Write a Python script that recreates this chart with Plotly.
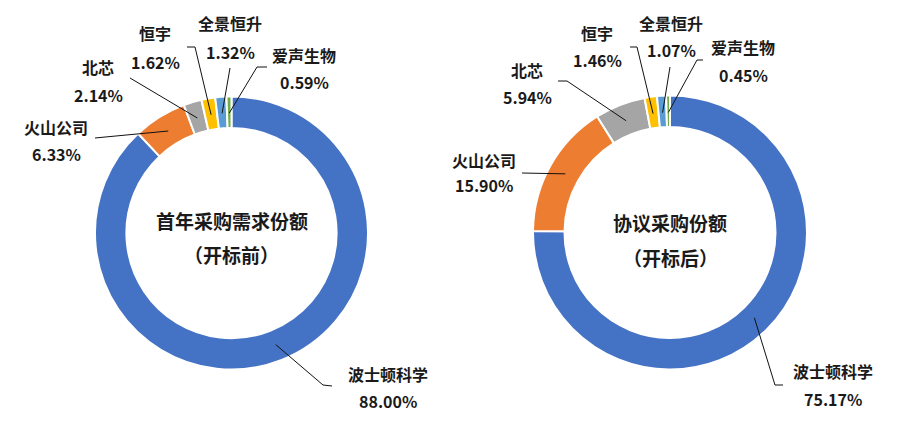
import math
import plotly.graph_objects as go

# ---------------- data ----------------
companies = ["波士顿科学", "火山公司", "北芯", "恒宇", "全景恒升", "爱声生物"]
share_before = [88.00, 6.33, 2.14, 1.62, 1.32, 0.59]
share_after = [75.17, 15.90, 5.94, 1.46, 1.07, 0.45]
titles_before = ["首年采购需求份额", "（开标前）"]
titles_after = ["协议采购份额", "（开标后）"]

colors = ["#4472C4", "#ED7D31", "#A5A5A5", "#FFC000", "#5B9BD5", "#70AD47"]

W, H = 903, 424
FONT = "Noto Sans CJK SC, Noto Sans, sans-serif"
TXT = "#1a1a1a"


def px(x):
    return x / W


def py(y):
    return 1 - y / H


# layout (pixel) settings for each donut
charts = [
    dict(values=share_before, cx=231.5, cy=233, r=136.5, titles=titles_before,
         title_y=[220, 255],
         # label centres (name line, percent line)
         labels=[(388, 374, 401), (56, 127, 154), (98, 67, 95), (155, 33, 62),
                 (230, 23, 52), (304, 55, 82)],
         # leader line points on the label side
         leaders=[[(332, 386), (323, 385)], [(95, 138)], [(130, 78)],
                  [(187, 47), (195, 47)], [(230, 68)], [(267, 67), (257, 67)]]),
    dict(values=share_after, cx=670, cy=232.5, r=137, titles=titles_after,
         title_y=[222, 257],
         labels=[(833, 371, 399), (484, 160, 185), (527, 70, 97), (597, 33, 60),
                 (671, 23, 50), (743, 47, 75)],
         leaders=[[(783, 385), (775, 385)], [(522, 173)], [(558, 81), (567, 81)],
                  [(630, 47), (637, 47)], [(670, 67)], [(703, 60), (697, 60)]]),
]

fig = go.Figure()
annotations = []
shapes = []


def text_ann(x, y, text, size):
    return dict(x=px(x), y=py(y), xref="paper", yref="paper",
                xanchor="center", yanchor="middle",
                text=f"<b>{text}</b>", showarrow=False,
                font=dict(family=FONT, size=size, color=TXT))


for ch in charts:
    cx, cy, r = ch["cx"], ch["cy"], ch["r"]
    fig.add_trace(go.Pie(
        labels=companies, values=ch["values"], hole=0.77, sort=False,
        direction="clockwise", rotation=0, textinfo="none",
        marker=dict(colors=colors, line=dict(color="white", width=2)),
        domain=dict(x=[px(cx - r), px(cx + r)], y=[py(cy + r), py(cy - r)]),
        showlegend=False, hoverinfo="label+percent",
    ))
    # center titles
    for t, ty in zip(ch["titles"], ch["title_y"]):
        annotations.append(text_ann(cx, ty, t, 19))
    # labels and leader lines
    total = sum(ch["values"])
    cum = 0.0
    for i, (name, v) in enumerate(zip(companies, ch["values"])):
        mid = (cum + v / 2) / total * 2 * math.pi
        cum += v
        ax = cx + 120 * math.sin(mid)
        ay = cy - 120 * math.cos(mid)
        lx, ny, vy = ch["labels"][i]
        annotations.append(text_ann(lx, ny, name, 16))
        annotations.append(text_ann(lx, vy, f"{v:.2f}%", 16))
        pts = ch["leaders"][i] + [(ax, ay)]
        path = "M " + " L ".join(f"{px(x):.5f},{py(y):.5f}" for x, y in pts)
        shapes.append(dict(type="path", path=path, xref="paper", yref="paper",
                           line=dict(color="#111111", width=1)))

fig.update_layout(
    width=W, height=H, margin=dict(l=0, r=0, t=0, b=0),
    paper_bgcolor="white", plot_bgcolor="white",
    annotations=annotations, shapes=shapes,
    font=dict(family=FONT),
)

fig.write_html("out.html")
